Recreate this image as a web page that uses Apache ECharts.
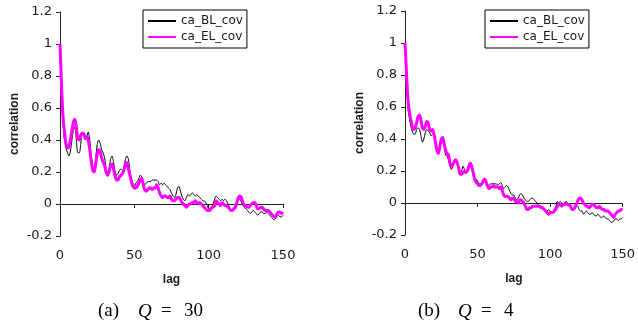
<!DOCTYPE html>
<html>
<head>
<meta charset="utf-8">
<script src="https://cdn.jsdelivr.net/npm/echarts@6/dist/echarts.min.js"></script>
<style>
html,body{margin:0;padding:0;background:#fff;}
#c{width:638px;height:331px;}
</style>
</head>
<body>
<div id="c"></div>
<script>
// ---- data ----
const seriesNames = ['ca_BL_cov', 'ca_EL_cov'];
const captionsA = ['(a)', '30'];
const captionsB = ['(b)', '4'];
const xTicks = [0, 50, 100, 150];
const yTicks = [-0.2, 0, 0.2, 0.4, 0.6, 0.8, 1, 1.2];

// (a) Q = 30
const blA = [
 1.00,0.70,0.52,0.40,0.35,0.32,0.30,0.33,0.40,0.46,
 0.48,0.40,0.32,0.32,0.38,0.45,0.44,0.40,0.42,0.45,
 0.40,0.30,0.22,0.21,0.28,0.37,0.40,0.38,0.34,0.32,
 0.29,0.22,0.20,0.22,0.28,0.30,0.26,0.20,0.18,0.19,
 0.21,0.22,0.21,0.22,0.28,0.30,0.28,0.21,0.16,0.13,
 0.11,0.13,0.14,0.16,0.18,0.17,0.14,0.12,0.13,0.14,
 0.14,0.14,0.15,0.15,0.15,0.15,0.14,0.12,0.13,0.12,
 0.13,0.12,0.11,0.10,0.09,0.07,0.05,0.04,0.06,0.10,
 0.11,0.08,0.05,0.03,0.02,0.04,0.06,0.05,0.06,0.07,
 0.06,0.05,0.06,0.05,0.04,0.03,0.02,0.02,0.01,-0.01,
 -0.03,-0.03,-0.02,0.00,0.03,0.05,0.04,0.03,0.02,0.03,
 0.02,0.03,0.02,0.00,-0.02,-0.04,-0.04,-0.02,-0.01,0.01,
 0.03,0.03,0.01,-0.01,-0.02,-0.03,-0.04,-0.05,-0.06,-0.05,
 -0.04,-0.05,-0.06,-0.07,-0.06,-0.05,-0.05,-0.06,-0.06,-0.05,
 -0.06,-0.07,-0.08,-0.09,-0.10,-0.09,-0.08,-0.07,-0.08,-0.08,-0.07
];
const elA = [
 1.00,0.75,0.55,0.45,0.38,0.35,0.36,0.40,0.46,0.51,
 0.53,0.48,0.41,0.40,0.43,0.44,0.44,0.41,0.42,0.40,
 0.34,0.27,0.21,0.20,0.25,0.31,0.34,0.33,0.29,0.26,
 0.24,0.20,0.18,0.20,0.24,0.25,0.22,0.18,0.15,0.15,
 0.17,0.18,0.19,0.21,0.25,0.26,0.22,0.18,0.14,0.11,
 0.10,0.10,0.11,0.13,0.15,0.16,0.12,0.09,0.08,0.09,
 0.10,0.10,0.09,0.10,0.10,0.12,0.10,0.07,0.05,0.04,
 0.05,0.05,0.04,0.04,0.05,0.03,0.02,0.02,0.03,0.04,
 0.04,0.03,0.01,0.00,-0.01,-0.02,-0.01,0.00,0.00,0.01,
 0.01,0.02,0.01,0.00,0.01,0.00,-0.01,-0.02,-0.03,-0.04,
 -0.04,-0.04,-0.02,-0.02,-0.01,0.02,0.01,0.00,-0.01,0.01,
 0.00,-0.01,-0.01,-0.02,-0.03,-0.04,-0.04,-0.03,-0.02,0.01,
 0.04,0.05,0.04,0.01,-0.01,-0.01,-0.02,-0.02,-0.01,0.00,
 0.01,0.01,-0.01,-0.03,-0.03,-0.02,-0.02,-0.03,-0.04,-0.04,
 -0.04,-0.05,-0.06,-0.07,-0.08,-0.08,-0.06,-0.05,-0.05,-0.06,-0.05
];
// (b) Q = 4
const blB = [
 1.00,0.78,0.60,0.53,0.48,0.45,0.43,0.43,0.46,0.47,
 0.46,0.42,0.38,0.40,0.44,0.46,0.45,0.44,0.42,0.43,
 0.42,0.38,0.33,0.31,0.35,0.40,0.40,0.36,0.30,0.29,
 0.27,0.23,0.21,0.23,0.26,0.26,0.24,0.21,0.19,0.20,
 0.23,0.21,0.19,0.20,0.22,0.24,0.22,0.19,0.16,0.15,
 0.14,0.12,0.12,0.13,0.14,0.15,0.13,0.11,0.11,0.12,
 0.12,0.12,0.12,0.12,0.11,0.12,0.13,0.11,0.09,0.10,
 0.11,0.10,0.08,0.06,0.05,0.05,0.03,0.02,0.03,0.05,
 0.06,0.05,0.03,0.02,0.01,0.01,0.02,0.03,0.03,0.02,
 0.01,0.00,-0.02,-0.03,-0.03,-0.03,-0.04,-0.05,-0.05,-0.04,
 -0.05,-0.06,-0.05,-0.04,-0.02,0.01,0.00,0.01,0.00,-0.01,
 0.00,0.01,0.00,-0.02,-0.03,-0.04,-0.04,-0.03,-0.02,-0.02,
 -0.04,-0.05,-0.05,-0.07,-0.06,-0.05,-0.06,-0.07,-0.07,-0.06,
 -0.07,-0.08,-0.08,-0.07,-0.08,-0.09,-0.09,-0.08,-0.09,-0.10,
 -0.10,-0.11,-0.12,-0.12,-0.11,-0.10,-0.10,-0.11,-0.10,-0.10,-0.09
];
const elB = [
 1.00,0.82,0.65,0.57,0.52,0.48,0.46,0.47,0.50,0.54,
 0.55,0.52,0.47,0.46,0.48,0.51,0.50,0.46,0.45,0.46,
 0.43,0.38,0.33,0.31,0.35,0.40,0.41,0.37,0.33,0.31,
 0.30,0.25,0.23,0.24,0.26,0.27,0.25,0.22,0.18,0.18,
 0.19,0.20,0.19,0.20,0.23,0.25,0.23,0.19,0.15,0.13,
 0.12,0.11,0.11,0.12,0.14,0.15,0.13,0.10,0.09,0.10,
 0.10,0.11,0.10,0.10,0.10,0.09,0.10,0.08,0.05,0.04,
 0.04,0.04,0.03,0.02,0.03,0.03,0.01,0.01,0.00,0.02,
 0.02,0.01,0.00,-0.02,-0.04,-0.04,-0.03,-0.03,-0.02,-0.02,
 -0.02,-0.02,-0.02,-0.02,-0.03,-0.03,-0.04,-0.05,-0.06,-0.07,
 -0.06,-0.06,-0.06,-0.05,-0.04,-0.02,-0.01,-0.01,-0.02,-0.01,
 -0.01,0.00,-0.01,-0.01,-0.02,-0.04,-0.04,-0.03,-0.01,0.01,
 0.03,0.03,0.02,0.00,-0.01,-0.02,-0.02,-0.03,-0.02,-0.01,
 -0.01,-0.02,-0.03,-0.03,-0.02,-0.03,-0.04,-0.04,-0.05,-0.05,
 -0.05,-0.06,-0.07,-0.08,-0.09,-0.07,-0.06,-0.05,-0.05,-0.04,-0.04
];

// ---- chart ----
const lags = blA.map((_, i) => i);
const pairs = v => v.map((y, i) => [lags[i], y]);

const TXT = '#1a1a1a';
const tickFont = 'DejaVu Sans';

function xAx(g) {
  return {
    gridIndex: g, type: 'value',
    min: xTicks[0], max: xTicks[xTicks.length - 1], interval: xTicks[1] - xTicks[0],
    name: 'lag', nameLocation: 'middle', nameGap: 38,
    nameTextStyle: {fontFamily: 'Liberation Sans', fontWeight: 'bold', fontSize: 12, color: TXT},
    axisLine: {show: true, lineStyle: {color: '#222', width: 1}},
    axisTick: {show: true, length: 4, lineStyle: {color: '#222'}},
    axisLabel: {fontFamily: tickFont, fontSize: 13, color: TXT, margin: 13},
    splitLine: {show: false}
  };
}
function yAx(g) {
  return {
    gridIndex: g, type: 'value',
    min: yTicks[0], max: yTicks[yTicks.length - 1], interval: 0.2,
    name: 'correlation', nameLocation: 'middle', nameGap: 39, nameRotate: 90,
    nameTextStyle: {fontFamily: 'Liberation Sans', fontWeight: 'bold', fontSize: 12, color: TXT},
    axisLine: {show: true, onZero: false, lineStyle: {color: '#222', width: 1}},
    axisTick: {show: true, length: 4, lineStyle: {color: '#222'}},
    axisLabel: {fontFamily: tickFont, fontSize: 13, color: TXT, margin: 8,
      formatter: v => String(Math.round(v * 10) / 10)},
    splitLine: {show: false}
  };
}
function legendAt(left, top) {
  return {
    data: seriesNames, orient: 'vertical', left: left, top: top,
    borderColor: '#000', borderWidth: 1, borderRadius: 0,
    padding: [5, 4, 5, 4], itemGap: 4, itemWidth: 28, itemHeight: 14,
    itemStyle: {opacity: 0},
    textStyle: {fontFamily: tickFont, fontSize: 12, color: TXT, padding: [0, 0, 0, 0]},
    selectedMode: false
  };
}
function lineS(name, data, g, color, width) {
  return {
    name: name, type: 'line', xAxisIndex: g, yAxisIndex: g,
    data: pairs(data), symbol: 'none', smooth: 0.25,
    lineStyle: {color: color, width: width}, itemStyle: {color: color},
    animation: false, z: width > 1 ? 3 : 2
  };
}
function caption(left, parts) {
  return {type: 'text', left: left, top: 302, style: {
    text: '{p|' + parts[0] + '}{i|Q}{e|=}{n|' + parts[1] + '}',
    fill: '#000',
    rich: {
      p: {fontFamily: 'Liberation Serif', fontSize: 19, width: 40, letterSpacing: 2},
      i: {fontFamily: 'Liberation Serif', fontSize: 19, fontStyle: 'italic', width: 23},
      e: {fontFamily: 'Liberation Serif', fontSize: 19, width: 23},
      n: {fontFamily: 'Liberation Serif', fontSize: 19, letterSpacing: 1}
    }}};
}

const chart = echarts.init(document.getElementById('c'), null, {renderer: 'canvas'});
chart.setOption({
  backgroundColor: '#fff',
  animation: false,
  grid: [
    {left: 60, top: 12, width: 223, height: 224},
    {left: 405, top: 11, width: 223, height: 224}
  ],
  xAxis: [xAx(0), xAx(1)],
  yAxis: [yAx(0), yAx(1)],
  legend: [legendAt(143, 10), legendAt(485, 10)],
  series: [
    lineS(seriesNames[0], blA, 0, '#000', 1),
    lineS(seriesNames[1], elA, 0, '#ff00ff', 3),
    lineS(seriesNames[0], blB, 1, '#000', 1),
    lineS(seriesNames[1], elB, 1, '#ff00ff', 3)
  ],
  graphic: [caption(98, captionsA), caption(418, captionsB)]
});
</script>
</body>
</html>
